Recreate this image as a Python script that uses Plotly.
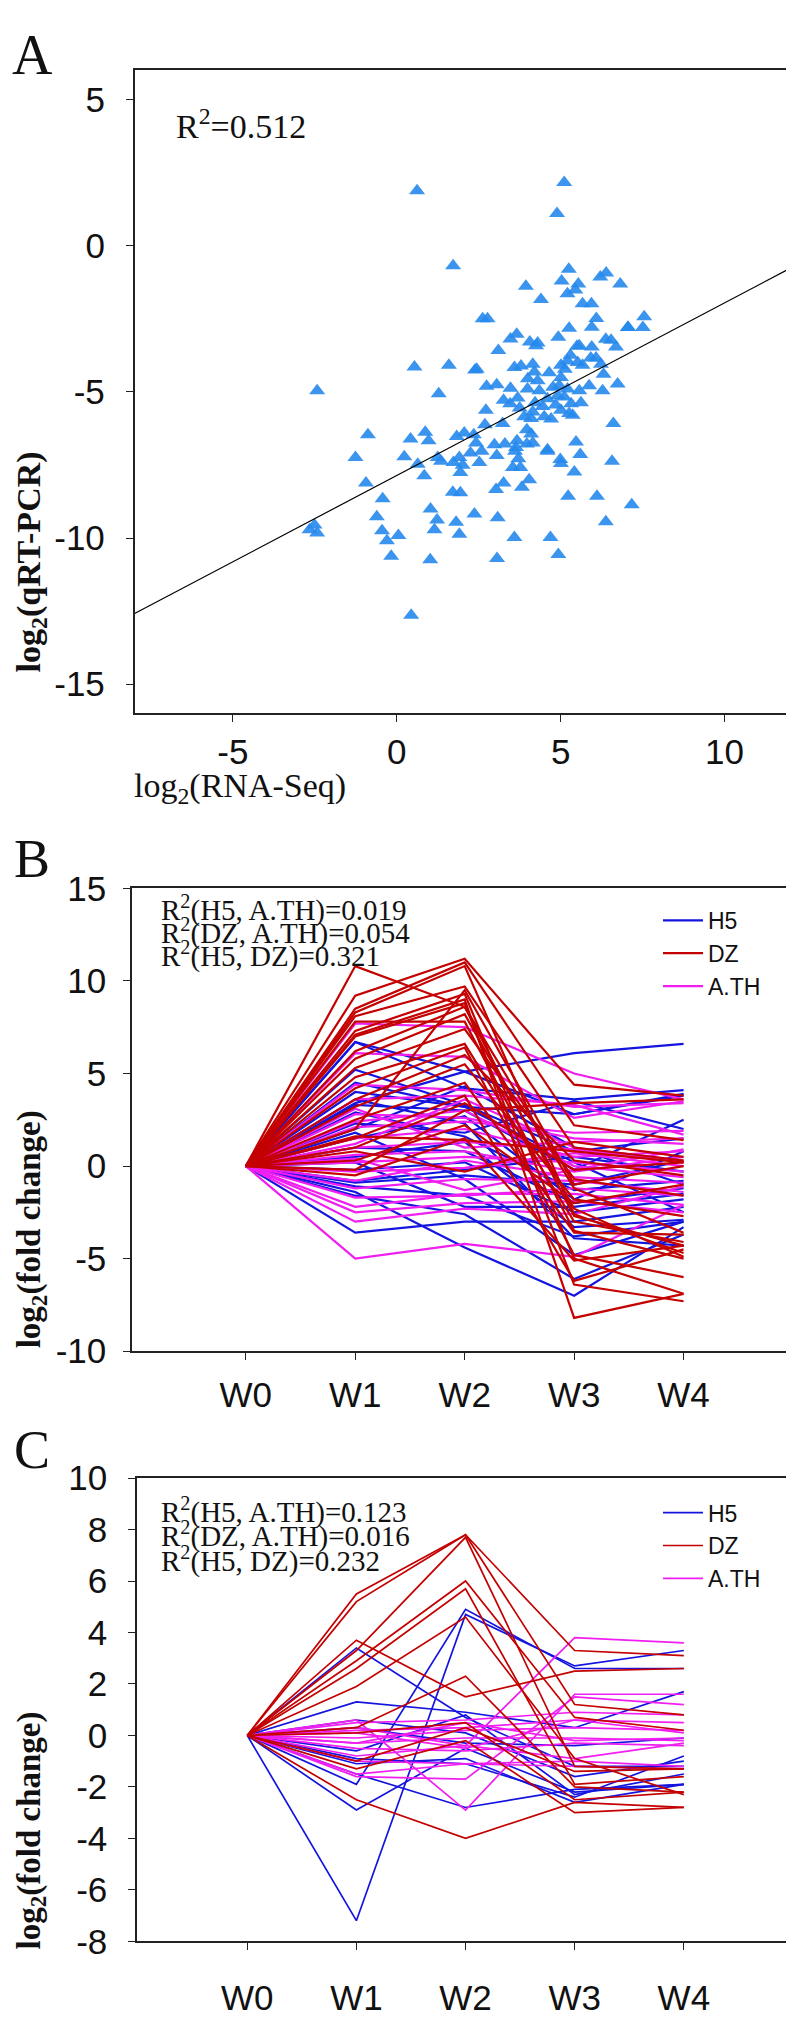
import plotly.graph_objects as go

# ---------------- Panel A: qRT-PCR vs RNA-Seq ----------------
RNA_SEQ = [
    0.62, 5.11, 4.89, 1.72, 3.94, 4.40, 5.25, 5.03, 5.54, 5.21, 5.45, 5.67, 5.94, 6.21, 6.39, 6.82,
    2.62, 2.77, 6.09, 7.55, 7.51, 7.05,
    5.26, 5.95, 7.06, 3.47, 3.66, 4.06, 4.30, 4.25, 4.93, 6.38, 6.54, 6.69, 5.50, 5.57, 5.95, 3.10,
    0.54, 1.59, 2.39, 2.44, 3.59, 3.79, 4.15, 4.20, 5.01, 5.21, 5.52, 5.67, 5.92, 6.08, 6.23, 6.31,
    5.13, 5.01, -2.43, 1.28, 2.74, 3.05, 3.47, 3.99, 4.30, 4.35, 4.77, 4.96, 5.21, 5.57, 5.87, 6.28,
    6.74, 3.26, 3.46, 3.69, 4.22, 4.60, 4.91, 5.11, 5.32, 5.62, 2.72, 4.15, 3.89, 4.10, 4.50, 4.71,
    5.01, 5.26, 5.37, 6.61, -0.88, 0.42, 0.87, 0.97, 1.83, 2.06, 2.35, 2.69, 3.23, 3.97, 4.10, 2.42,
    2.98, 3.30, 3.67, 3.64, 3.97, 4.15, 4.60, 5.47, 4.45, 4.85, 4.65, 3.75, 4.00, 5.30,
    -1.26, 0.23, 0.64, 1.25, 1.35, 1.73, 1.91, 2.01, 1.94, 2.25, 2.52, 2.59, 3.05, 3.54, 3.61, 3.77,
    3.71, 4.04, 4.60, 4.99, 5.01, 5.42, 5.60, 6.57, 0.84, -0.94, -0.43, 1.71, 1.94, 3.03, 3.26, 3.82,
    5.23, 6.11, 7.17, -2.66, -2.51, -2.43, -0.61, -0.45, -0.30, 0.05, -0.17, 1.03, 1.23, 1.15, 1.81,
    1.91, 2.37, 3.08, 1.02, 3.06, 3.59, 4.69, 4.93, 6.38, 0.44,
]
QRT_PCR = [
    1.88, 2.16, 1.10, -0.69, -1.39, -1.84, -0.81, -1.21, -1.31, -1.65, -1.52, -1.99, -1.99, -1.07, -0.94, -1.31,
    -2.50, -2.50, -2.49, -2.43, -2.80, -2.80,
    -2.83, -2.79, -2.80, -3.19, -3.03, -3.30, -3.33, -3.42, -3.13, -3.20, -3.24, -3.47, -3.44, -3.42, -3.47, -3.59,
    -4.15, -4.09, -4.25, -4.23, -4.17, -4.12, -4.06, -4.32, -4.09, -3.95, -4.00, -4.09, -3.84, -3.84, -4.06, -4.40,
    -4.23, -4.51, -4.96, -5.07, -4.81, -4.76, -4.88, -4.90, -4.62, -4.96, -4.84, -4.79, -4.90, -4.96, -4.79, -4.96,
    -4.73, -5.29, -5.41, -5.21, -5.37, -5.24, -5.13, -5.18, -5.41, -5.37, -5.63, -5.69, -5.85, -5.91, -5.85, -5.93,
    -5.63, -5.74, -5.80, -6.08, -6.47, -6.61, -6.38, -6.67, -6.53, -6.41, -6.47, -6.13, -6.08, -6.30, -6.44, -6.75,
    -6.81, -6.78, -6.67, -6.90, -6.78, -6.75, -6.98, -6.72, -5.50, -5.45, -4.35, -5.55, -4.55, -3.75,
    -7.25, -7.22, -7.48, -7.25, -7.37, -7.42, -7.25, -7.51, -7.76, -7.09, -7.42, -7.03, -7.18, -7.59, -7.03, -7.59,
    -7.29, -8.01, -7.03, -7.31, -7.45, -7.74, -7.14, -7.37, -7.87, -8.12, -8.66, -8.43, -8.45, -8.34, -8.12, -8.26,
    -8.57, -8.57, -8.86, -9.72, -9.55, -9.83, -9.27, -9.75, -10.09, -9.91, -10.62, -9.01, -9.38, -9.72, -9.46,
    -9.87, -9.18, -9.31, -10.74, -10.70, -9.98, -9.98, -10.56, -9.44, -12.64,
]
FIT_SLOPE = 0.59
FIT_INTERCEPT = -7.86
FIT_X = [-8, 12]
A_XTICKS = [-5, 0, 5, 10]
A_YTICKS = [-15, -10, -5, 0, 5]

# ---------------- Panels B and C: fold change per week ----------------
WEEKS = ["W0", "W1", "W2", "W3", "W4"]

B_H5 = [
    [0, 6.7, 5.1, 2.8, 3.9], [0, 3.4, 5.1, 6.1, 6.6], [0, 5.2, 3.3, 0.8, 1.5], [0, 6.7, 4.2, 3.6, 4.1],
    [0, 4.0, 3.2, 2.8, 3.8], [0, 3.3, 3.0, -0.2, 2.5], [0, 2.3, 1.8, 3.5, 2.0], [0, 2.0, 4.3, 1.0, -1.0],
    [0, 1.5, 2.7, -1.8, 0.8], [0, 1.0, 0.8, -2.0, -1.2], [0, 0.5, 1.3, -3.3, -2.9], [0, -0.2, 0.2, -2.5, -1.8],
    [0, -0.8, -0.2, 0.5, -0.3], [0, -1.1, -1.6, -3.8, -3.0], [0, -1.4, -4.4, -7.0, -3.3], [0, -3.6, -3.0, -3.0, -2.2],
    [0, -1.6, -2.6, -6.1, -3.7], [0, 1.8, -0.7, -4.8, -3.0], [0, 3.6, 2.3, -3.9, -4.3], [0, 0.2, -2.2, -2.2, -1.5],
    [0, 2.9, 1.6, -1.3, -0.8], [0, -0.9, -0.5, -1.0, 0.3], [0, 4.5, 3.2, 0.2, -2.5],
]
B_DZ = [
    [0, 10.8, 8.6, -1.2, -3.6], [0, 9.2, 11.2, 4.4, 3.8], [0, 8.5, 11.0, 2.2, 1.4], [0, 8.3, 10.8, -2.6, -4.7],
    [0, 8.1, 9.7, 1.0, 0.3], [0, 7.8, 7.8, -3.5, -5.0], [0, 7.3, 9.3, -5.0, -6.9], [0, 7.1, 9.0, -8.2, -6.9],
    [0, 7.0, 8.8, -6.4, -7.3], [0, 6.2, 8.6, -2.7, -4.3], [0, 5.3, 7.4, -0.7, -1.6], [0, 4.8, 6.6, -3.0, -4.1],
    [0, 4.2, 6.4, -4.8, -6.0], [0, 3.6, 6.0, 0.3, -0.5], [0, 3.2, 5.5, -1.8, -2.7], [0, 2.5, 4.5, -3.6, -3.7],
    [0, 1.5, 3.8, -6.2, -4.5], [0, 1.0, 3.4, -0.2, 0.2], [0, 0.3, 2.2, -2.0, -1.0], [0, -0.5, 1.5, -5.1, -4.3],
    [0, 0.8, -0.3, 1.3, 0.5], [0, 1.6, 1.4, 0.8, 0.2], [0, 2.0, 9.5, -1.0, 0.0], [0, 5.8, 8.2, -2.3, -4.9],
    [0, -0.2, 3.0, 3.4, 3.6],
]
B_ATH = [
    [0, 7.7, 7.5, 5.0, 3.6], [0, 6.1, 5.9, 2.6, 3.5], [0, 4.4, 4.1, 3.2, 3.4], [0, 3.6, 3.8, 3.3, 1.7],
    [0, 2.8, 2.6, 1.5, 1.2], [0, 2.1, 2.4, 1.8, 1.9], [0, 1.5, 2.0, 0.5, 0.8], [0, 1.0, 1.3, 0.9, 0.2],
    [0, 0.6, 0.8, -0.3, 0.5], [0, 0.2, 0.5, 0.2, -0.3], [0, -0.3, -0.1, 0.7, 0.0], [0, -0.8, 0.3, -0.6, -0.9],
    [0, -1.2, -0.7, -0.8, -1.4], [0, -1.7, -1.6, -1.2, -1.6], [0, -2.2, -1.5, -1.5, -2.1], [0, -2.5, -2.0, -1.9, -2.5],
    [0, -3.0, -2.3, -2.6, -1.1], [0, -5.0, -4.2, -4.9, -2.1], [0, 1.2, 3.6, 1.0, 0.3], [0, 2.4, 3.0, 0.0, -0.6],
    [0, 3.1, 1.0, 1.3, 1.5], [0, 0.4, -1.3, -0.2, 0.9],
]

C_H5 = [
    [0, -7.2, 4.7, 2.7, 3.3], [0, -1.9, 4.9, 2.6, 2.6], [0, 3.4, 0.7, -1.2, -1.2], [0, 1.3, 0.9, 0.3, 1.7],
    [0, 0.6, 0.1, -1.6, -1.0], [0, -2.9, -0.5, -2.2, -1.9], [0, -1.5, -2.8, -2.1, -1.9], [0, -0.6, 0.8, -2.3, -1.5],
    [0, -1.1, -0.9, -2.6, -1.9], [0, -0.9, -1.1, -2.4, -0.8], [0, 0.3, -0.3, -0.4, -0.1],
]
C_DZ = [
    [0, 5.5, 7.8, 3.3, 3.1], [0, 5.2, 7.8, 1.2, 0.8], [0, 3.3, 7.7, -1.2, -1.3], [0, 2.9, 6.0, 0.7, 0.2],
    [0, 2.6, 5.7, -1.9, -1.6], [0, 1.9, 4.6, -0.9, -2.3], [0, 3.7, 1.5, 2.5, 2.6], [0, 0.3, 2.3, -2.0, -2.2],
    [0, -2.5, -4.0, -2.6, -2.8], [0, -1.3, -0.2, -3.0, -2.8], [0, -1.0, 0.3, -1.4, -1.3], [0, 0.1, 0.5, -2.5, -2.2],
]
C_ATH = [
    [0, 0.3, -0.4, 3.8, 3.6], [0, 0.6, -2.9, 1.6, 1.6], [0, -1.6, -1.7, 1.5, 1.2], [0, 0.5, 0.6, 0.9, 0.8],
    [0, 0.2, 0.3, 0.6, 0.5], [0, -0.1, 0.2, 0.3, 0.2], [0, -0.3, -0.1, -0.1, -0.2], [0, -0.5, -0.6, -0.3, -0.4],
    [0, -0.8, -0.4, -0.9, -0.3], [0, -1.0, -1.1, -1.0, -1.2], [0, -1.5, -1.1, -1.2, -1.3], [0, 0.1, -0.5, 0.6, 0.1],
    [0, -0.3, 0.5, -0.2, -0.1],
]

B_R2 = ["R<sup>2</sup>(H5, A.TH)=0.019", "R<sup>2</sup>(DZ, A.TH)=0.054", "R<sup>2</sup>(H5, DZ)=0.321"]
C_R2 = ["R<sup>2</sup>(H5, A.TH)=0.123", "R<sup>2</sup>(DZ, A.TH)=0.016", "R<sup>2</sup>(H5, DZ)=0.232"]

COLORS = {"H5": "#1414e0", "DZ": "#c40000", "A.TH": "#f01ef0"}
RANK = {"H5": 1, "DZ": 2, "A.TH": 3}

W, H = 794, 2017
SANS = "Liberation Sans, Arial, sans-serif"
SERIF = "Liberation Serif, Times New Roman, serif"


def fx(px):
    return px / W


def fy(py):
    return 1 - py / H


fig = go.Figure()

# panel A
fig.add_trace(go.Scatter(
    x=RNA_SEQ, y=QRT_PCR, mode="markers", xaxis="x", yaxis="y", showlegend=False,
    marker=dict(symbol="triangle-up", size=14, color="rgba(38,136,236,0.9)", line=dict(width=0)),
))
fig.add_trace(go.Scatter(
    x=FIT_X, y=[FIT_SLOPE * v + FIT_INTERCEPT for v in FIT_X], mode="lines",
    xaxis="x", yaxis="y", showlegend=False, line=dict(color="black", width=1.2),
))


def add_group(rows, name, xa, ya, legend, width):
    for i, row in enumerate(rows):
        fig.add_trace(go.Scatter(
            x=WEEKS, y=row, mode="lines", name=name, legendgroup=legend + name,
            showlegend=(i == 0), legend=legend, legendrank=RANK[name],
            xaxis=xa, yaxis=ya, line=dict(color=COLORS[name], width=width),
        ))


for rows, name in [(B_H5, "H5"), (B_ATH, "A.TH"), (B_DZ, "DZ")]:
    add_group(rows, name, "x2", "y2", "legend", 2.2)
for rows, name in [(C_H5, "H5"), (C_ATH, "A.TH"), (C_DZ, "DZ")]:
    add_group(rows, name, "x3", "y3", "legend2", 1.7)

axis_style = dict(
    showline=True, linecolor="#222", linewidth=1.5, mirror=True, showgrid=False, zeroline=False,
    ticks="outside", ticklen=7, tickwidth=1.3, tickcolor="#222",
    tickfont=dict(family=SANS, size=35, color="#111"),
)
legend_style = dict(
    xanchor="left", yanchor="top", bgcolor="rgba(0,0,0,0)",
    font=dict(family=SANS, size=23, color="#111"), itemwidth=40, tracegroupgap=0,
)

fig.update_layout(
    width=W, height=H, margin=dict(l=0, r=0, t=0, b=0), autosize=False,
    paper_bgcolor="white", plot_bgcolor="white",
    xaxis=dict(axis_style, domain=[fx(126.6), fx(782)], range=[-8, 12], anchor="y",
               tickvals=A_XTICKS, ticktext=[str(v) for v in A_XTICKS], ticklabelstandoff=0),
    yaxis=dict(axis_style, domain=[fy(699), fy(43)], range=[-16, 6], anchor="x",
               tickvals=A_YTICKS, ticktext=[str(v) for v in A_YTICKS], ticklabelstandoff=14),
    xaxis2=dict(axis_style, domain=[fx(124), fx(785)], range=[-1.04, 5], anchor="y2",
                type="category", categoryarray=WEEKS, ticklabelstandoff=5),
    yaxis2=dict(axis_style, domain=[fy(1349.3), fy(877.3)], range=[-10, 15], anchor="x2",
                tickvals=[-10, -5, 0, 5, 10, 15], ticktext=["-10", "-5", "0", "5", "10", "15"],
                ticklabelstandoff=10),
    xaxis3=dict(axis_style, domain=[fx(129), fx(785)], range=[-1.01, 5], anchor="y3",
                type="category", categoryarray=WEEKS, ticklabelstandoff=18),
    yaxis3=dict(axis_style, domain=[fy(1951), fy(1478.7)], range=[-8, 10], anchor="x3",
                tickvals=list(range(-8, 11, 2)), ticktext=[str(v) for v in range(-8, 11, 2)],
                ticklabelstandoff=14),
    legend=dict(legend_style, x=fx(650), y=fy(888)),
    legend2=dict(legend_style, x=fx(650), y=fy(1492)),
)

notes = [
    dict(text="A", x=fx(24), y=fy(28), font=dict(family=SERIF, size=56)),
    dict(text="B", x=fx(24), y=fy(847), font=dict(family=SERIF, size=54)),
    dict(text="C", x=fx(24), y=fy(1450), font=dict(family=SERIF, size=54)),
    dict(text="R<sup>2</sup>=0.512", x=fx(166), y=fy(98), xanchor="left", font=dict(family=SERIF, size=34)),
    dict(text="<b>log<sub>2</sub>(qRT-PCR)</b>", x=fx(23), y=fy(545), textangle=-90,
         font=dict(family=SERIF, size=34)),
    dict(text="log<sub>2</sub>(RNA-Seq)", x=fx(124), y=fy(775), xanchor="left",
         font=dict(family=SERIF, size=34)),
    dict(text="<b>log<sub>2</sub>(fold change)</b>", x=fx(23), y=fy(1225), textangle=-90,
         font=dict(family=SERIF, size=33)),
    dict(text="<b>log<sub>2</sub>(fold change)</b>", x=fx(23), y=fy(1838), textangle=-90,
         font=dict(family=SERIF, size=33)),
]
for txt, py in zip(B_R2, [898, 921.7, 945]):
    notes.append(dict(text=txt, x=fx(151), y=fy(py), xanchor="left", font=dict(family=SERIF, size=29)))
for txt, py in zip(C_R2, [1511.7, 1536.7, 1561.7]):
    notes.append(dict(text=txt, x=fx(151), y=fy(py), xanchor="left", font=dict(family=SERIF, size=29)))

for n in notes:
    n.setdefault("xanchor", "center")
    n["font"].setdefault("color", "#111")
    fig.add_annotation(xref="paper", yref="paper", yanchor="middle", showarrow=False, **n)

fig.write_html("out.html")
